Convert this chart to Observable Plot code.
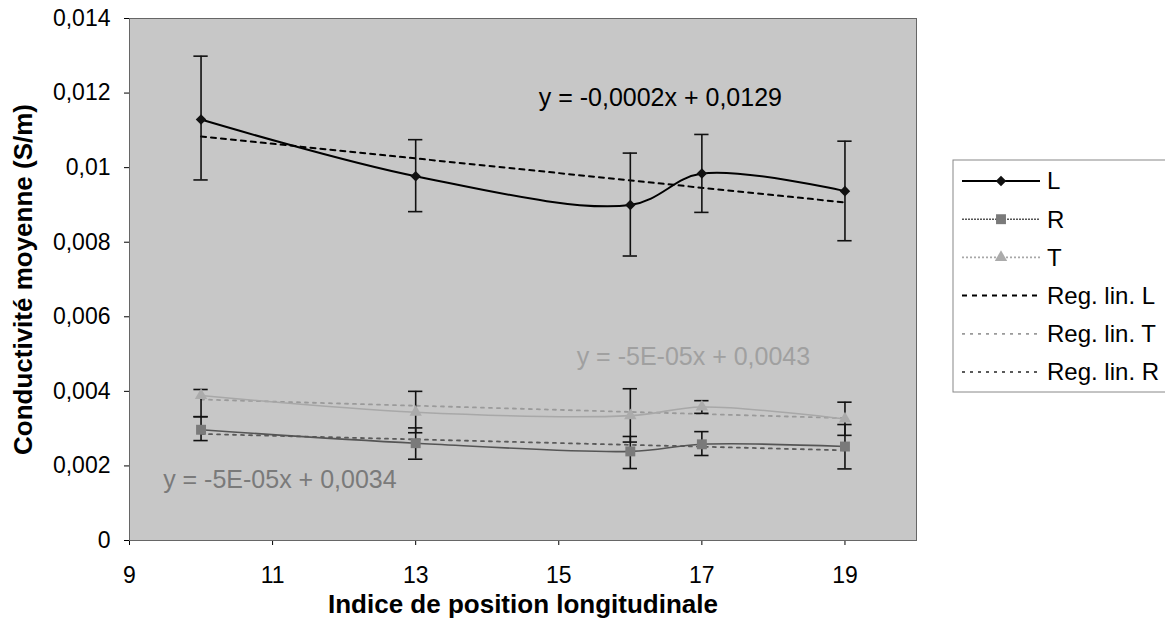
<!DOCTYPE html>
<html>
<head>
<meta charset="utf-8">
<script src="https://cdn.jsdelivr.net/npm/d3@7"></script>
<script src="https://cdn.jsdelivr.net/npm/@observablehq/plot@0.6"></script>
<style>
  html, body { margin: 0; padding: 0; background: #fff; }
  #chart svg { display: block; }
</style>
</head>
<body>
<div id="chart"></div>
<script>
// ---- data ----
const positions = [10, 13, 16, 17, 19];
const seriesNames = ["L", "R", "T"];

const valuesL = [0.01129, 0.00977, 0.00900, 0.00984, 0.00937];
const lowL    = [0.00967, 0.00882, 0.00763, 0.00880, 0.00804];
const highL   = [0.01299, 0.01075, 0.01039, 0.01089, 0.01071];

const valuesR = [0.00297, 0.00261, 0.00239, 0.00258, 0.00252];
const lowR    = [0.00268, 0.00218, 0.00193, 0.00228, 0.00192];
const highR   = [0.00332, 0.00302, 0.00279, 0.00292, 0.00311];

const valuesT = [0.00389, 0.00344, 0.00335, 0.00358, 0.00326];
const lowT    = [0.00332, 0.00289, 0.00264, 0.00341, 0.00282];
const highT   = [0.00405, 0.00400, 0.00407, 0.00375, 0.00371];

const xTicks = [9, 11, 13, 15, 17, 19];
const yTicks = [0, 0.002, 0.004, 0.006, 0.008, 0.010, 0.012, 0.014];

const equationLabels = ["y = -0,0002x + 0,0129", "y = -5E-05x + 0,0043", "y = -5E-05x + 0,0034"];
const legendLabels = ["L", "R", "T", "Reg. lin. L", "Reg. lin. T", "Reg. lin. R"];
const xTitle = "Indice de position longitudinale";
const yTitle = "Conductivité moyenne (S/m)";

// ---- build table ----
const table = {L: [valuesL, lowL, highL], R: [valuesR, lowR, highR], T: [valuesT, lowT, highT]};
const rows = seriesNames.flatMap(s => positions.map((x, i) => ({
  series: s, x, y: table[s][0][i], lo: table[s][1][i], hi: table[s][2][i]
})));
const rowsOf = s => rows.filter(d => d.series === s);

const FONT = "'Liberation Sans', Arial, sans-serif";
const diamond = {draw(ctx, size) { const r = Math.sqrt(size / 2); ctx.moveTo(0, -r); ctx.lineTo(r, 0); ctx.lineTo(0, r); ctx.lineTo(-r, 0); ctx.closePath(); }};

const style = {
  L: {line: "#000", lw: 2, sym: diamond, fill: "#111", r: 4.2},
  R: {line: "#555", lw: 1.6, sym: "square", fill: "#7a7a7a", r: 5.6},
  T: {line: "#a8a8a8", lw: 1.6, sym: "triangle", fill: "#ababab", r: 4.6}
};
const regStyle = {
  L: {stroke: "#000", lw: 2, dash: "5,5"},
  T: {stroke: "#9a9a9a", lw: 1.8, dash: "3,5"},
  R: {stroke: "#5a5a5a", lw: 1.8, dash: "3,5"}
};
const capHalf = 0.1;

const fmt = d => d === 0 ? "0" : String(+d.toFixed(3)).replace(".", ",");

const marks = [
  Plot.frame({fill: "#c7c7c7", stroke: "none"}),
  // trend lines
  ...["L", "T", "R"].map(s => Plot.linearRegressionY(rowsOf(s), {
    x: "x", y: "y", ci: 0, stroke: regStyle[s].stroke, strokeWidth: regStyle[s].lw, strokeDasharray: regStyle[s].dash
  })),
  // series lines
  ...seriesNames.map(s => Plot.line(rowsOf(s), {
    x: "x", y: "y", curve: "catmull-rom", stroke: style[s].line, strokeWidth: style[s].lw
  })),
  // error bars
  Plot.ruleX(rows, {x: "x", y1: "lo", y2: "hi", stroke: "#111", strokeWidth: 1.6}),
  Plot.ruleY(rows, {y: "hi", x1: d => d.x - capHalf, x2: d => d.x + capHalf, stroke: "#111", strokeWidth: 1.6}),
  Plot.ruleY(rows, {y: "lo", x1: d => d.x - capHalf, x2: d => d.x + capHalf, stroke: "#111", strokeWidth: 1.6}),
  // markers
  ...seriesNames.map(s => Plot.dot(rowsOf(s), {
    x: "x", y: "y", symbol: () => style[s].sym, r: style[s].r, fill: style[s].fill, stroke: "none"
  })),
  // equations
  Plot.text([equationLabels[0]], {x: 14.72, y: 0.01188, text: d => d, textAnchor: "start", fill: "#000", fontSize: 25}),
  Plot.text([equationLabels[1]], {x: 15.25, y: 0.00491, text: d => d, textAnchor: "start", fill: "#a0a0a0", fontSize: 25}),
  Plot.text([equationLabels[2]], {x: 9.47, y: 0.00161, text: d => d, textAnchor: "start", fill: "#7a7a7a", fontSize: 25}),
  // titles
  Plot.text([yTitle], {frameAnchor: "left", dx: -106, rotate: -90, textAnchor: "middle", text: d => d, fontWeight: "bold", fontSize: 26, fill: "#000"}),
  Plot.text([xTitle], {frameAnchor: "bottom", dy: 72, text: d => d, fontWeight: "bold", fontSize: 26, fill: "#000"}),
  Plot.frame({stroke: "#666", strokeWidth: 1})
];

const svg = Plot.plot({
  width: 1165,
  height: 631,
  marginLeft: 129,
  marginRight: 249,
  marginTop: 18,
  marginBottom: 91,
  style: {fontFamily: FONT, fontSize: "23px", color: "#000", background: "#fff", overflow: "visible"},
  x: {domain: [9, 20], ticks: xTicks, tickSize: 5, tickPadding: 21, tickFormat: d => String(d), label: null},
  y: {domain: [0, 0.014], ticks: yTicks, tickSize: 5, tickPadding: 14, tickFormat: fmt, label: null},
  marks
});

// ---- legend (drawn into the same SVG) ----
const g = d3.select(svg).append("g").attr("font-family", FONT).attr("font-size", 24).attr("text-anchor", "start");
g.append("rect").attr("x", 953).attr("y", 160).attr("width", 240).attr("height", 232)
  .attr("fill", "#fff").attr("stroke", "#888").attr("stroke-width", 1);
const legendStyle = [
  {stroke: style.L.line, lw: 2, dash: null, sym: "diamond", fill: style.L.fill},
  {stroke: style.R.line, lw: 1.6, dash: "2,1", sym: "square", fill: style.R.fill},
  {stroke: style.T.line, lw: 1.6, dash: "2,2", sym: "triangle", fill: style.T.fill},
  {stroke: regStyle.L.stroke, lw: regStyle.L.lw, dash: "5,5"},
  {stroke: regStyle.T.stroke, lw: regStyle.T.lw, dash: "3,5"},
  {stroke: regStyle.R.stroke, lw: regStyle.R.lw, dash: "3,5"}
];
legendLabels.forEach((lab, i) => {
  const cy = 181 + i * 38.2;
  const st = legendStyle[i];
  g.append("line").attr("x1", 962).attr("x2", 1040).attr("y1", cy).attr("y2", cy)
    .attr("stroke", st.stroke).attr("stroke-width", st.lw).attr("stroke-dasharray", st.dash);
  if (st.sym) {
    let p;
    if (st.sym === "diamond") p = d3.symbol(diamond, Math.PI * 4.2 * 4.2)();
    else if (st.sym === "square") p = d3.symbol(d3.symbolSquare, Math.PI * 5.6 * 5.6)();
    else p = d3.symbol(d3.symbolTriangle, Math.PI * 4.6 * 4.6)();
    g.append("path").attr("d", p).attr("transform", `translate(1001,${cy})`).attr("fill", st.fill);
  }
  g.append("text").attr("x", 1047).attr("y", cy).attr("dy", "0.35em").attr("text-anchor", "start").attr("fill", "#000").text(lab);
});

document.getElementById("chart").appendChild(svg);
</script>
</body>
</html>
